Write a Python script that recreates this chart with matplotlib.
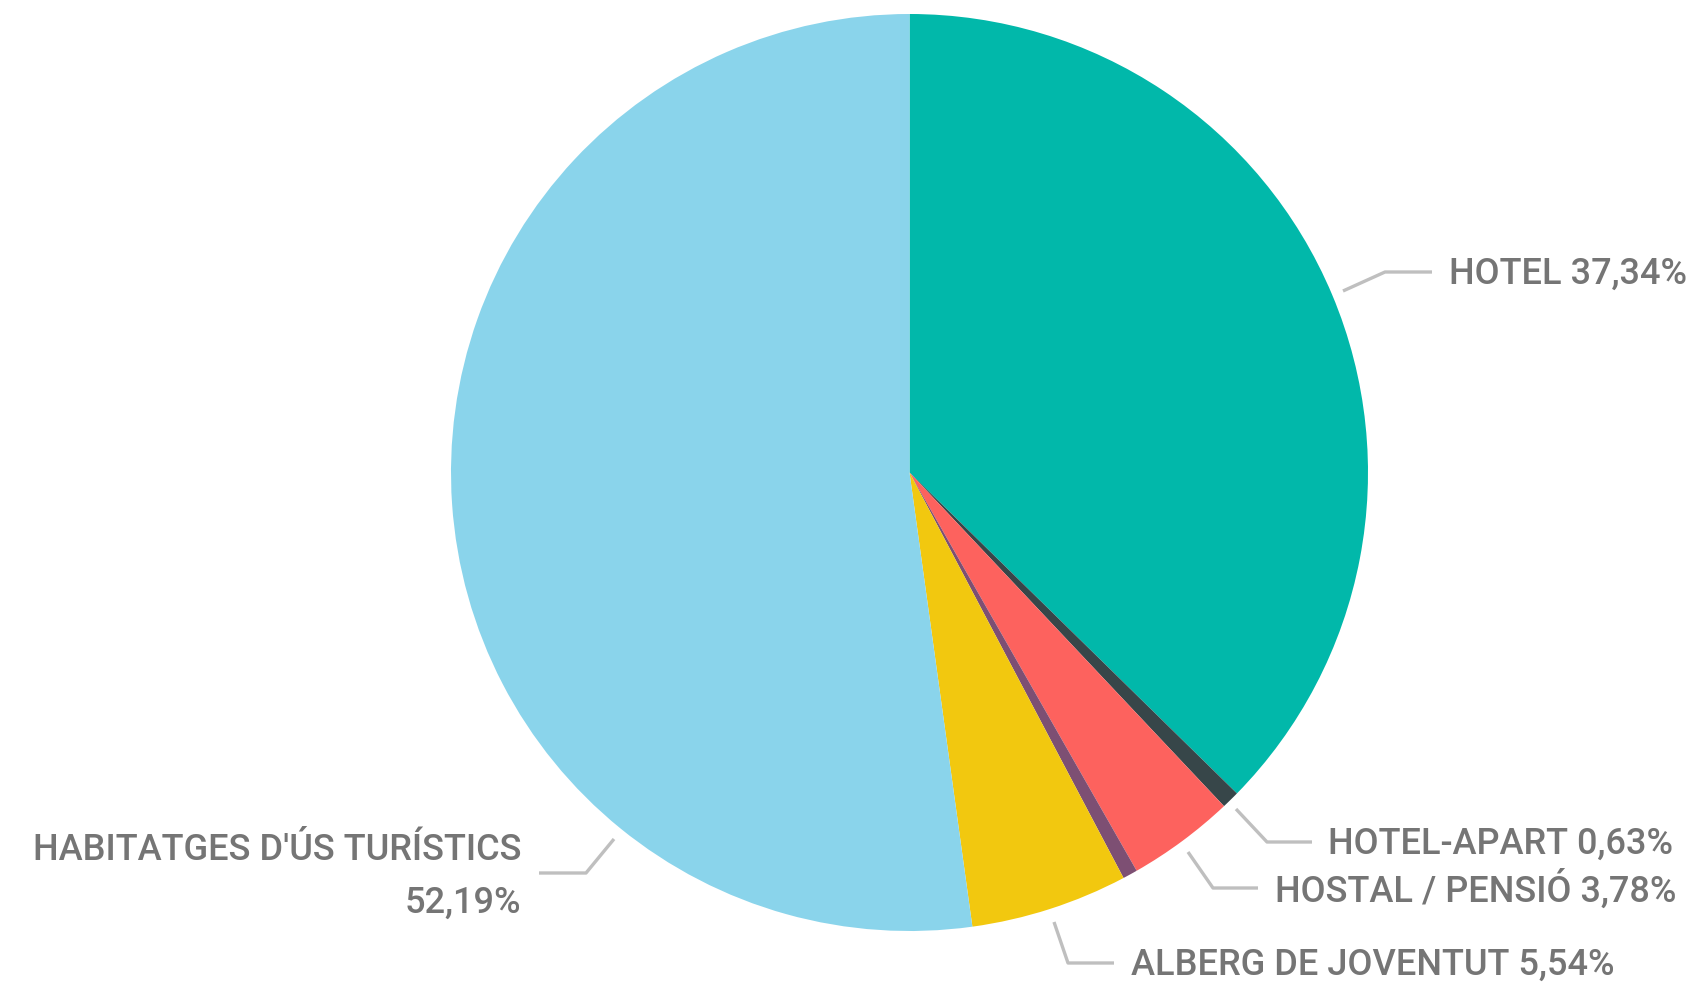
import matplotlib
matplotlib.use("Agg")
import matplotlib.pyplot as plt

# Data
categories = ["HOTEL", "HOTEL-APART", "HOSTAL / PENSIÓ", "ALTRES", "ALBERG DE JOVENTUT", "HABITATGES D'ÚS TURÍSTICS"]
values = [37.34, 0.63, 3.78, 0.52, 5.54, 52.19]
value_labels = ["37,34%", "0,63%", "3,78%", "", "5,54%", "52,19%"]
colors = ["#01B8AA", "#374649", "#FD625E", "#7D4F73", "#F2C80F", "#8AD4EB"]

W, H = 1701, 986
fig = plt.figure(figsize=(W / 100, H / 100), dpi=100)
ax = fig.add_axes([0, 0, 1, 1])
ax.set_xlim(0, W)
ax.set_ylim(0, H)
ax.set_aspect("equal")
ax.axis("off")

def Y(y):
    return H - y

cx, cy, r = 909.5, 472.5, 458.5
ax.pie(values, colors=colors, startangle=90, counterclock=False,
       center=(cx, Y(cy)), radius=r, frame=True,
       wedgeprops=dict(linewidth=0))
ax.set_xlim(0, W)
ax.set_ylim(0, H)
ax.axis("off")

line_c = "#BFBFBF"
txt_c = "#757575"
fs = 26
font = "Roboto"
fw = "medium"

# leader lines (layout, pixel coords)
leaders = {
    0: [(1343, 291), (1385, 272), (1432, 272)],
    1: [(1236, 809), (1267, 842), (1312, 842)],
    2: [(1188, 852), (1213, 888), (1258, 888)],
    4: [(1054, 922), (1068, 963), (1114, 963)],
    5: [(614, 839), (586, 873), (539, 873)],
}
text_pos = {
    0: (1449, 274),
    1: (1328, 844),
    2: (1275, 890),
    4: (1131, 965),
}
for i, pts in leaders.items():
    xs = [p[0] for p in pts]
    ys = [Y(p[1]) for p in pts]
    ax.plot(xs, ys, color=line_c, lw=2.4, solid_capstyle="butt")

for i, (x, y) in text_pos.items():
    ax.text(x, Y(y), f"{categories[i]} {value_labels[i]}", ha="left", va="center",
            fontsize=fs, color=txt_c, family=font, fontweight=fw)

ax.text(521, Y(850), categories[5], ha="right", va="center", fontsize=fs, color=txt_c, family=font, fontweight=fw)
ax.text(521, Y(903), value_labels[5], ha="right", va="center", fontsize=fs, color=txt_c, family=font, fontweight=fw)

fig.savefig("out.png", dpi=100, facecolor="white")
